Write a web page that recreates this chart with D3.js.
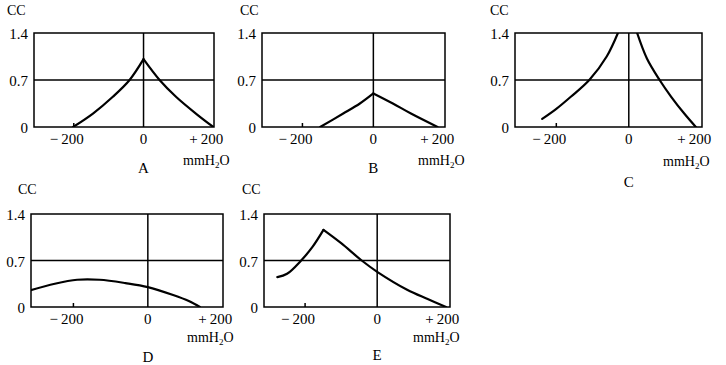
<!DOCTYPE html>
<html>
<head>
<meta charset="utf-8">
<script src="https://cdn.jsdelivr.net/npm/d3@7"></script>
<style>
  body { margin: 0; background: #fff; }
  svg text { font-family: "Liberation Serif", "Times New Roman", Times, "Nimbus Roman", "Nimbus Roman No9 L", FreeSerif, "Noto Serif", "DejaVu Serif", serif; }
</style>
</head>
<body>
<div id="viz-container"></div>
<script>
// ---- data (x in mmH2O, y in CC) ----
const xTicks = [-200, 0, 200];
const xTickLabels = ["−200", "0", "+200"];
const yTicks = [0, 0.7, 1.4];
const yTickLabels = ["0", "0.7", "1.4"];
const panelNames = ["A", "B", "C", "D", "E"];

// each curve is a list of branches (peaks are drawn as cusps)
const curveA = [
  [[-202, 0], [-145, 0.2], [-88, 0.45], [-40, 0.7], [0, 1.01]],
  [[0, 1.01], [46, 0.7], [93, 0.45], [150, 0.2], [200, 0]]
];
const curveB = [
  [[-150, 0], [-85, 0.2], [-38, 0.35], [0, 0.5]],
  [[0, 0.5], [55, 0.35], [106, 0.2], [181, 0]]
];
const curveC = [
  [[-239, 0.12], [-200, 0.27], [-160, 0.45], [-109, 0.7], [-61, 1.05], [-30, 1.4]],
  [[23, 1.4], [50, 1.02], [85, 0.7], [117, 0.45], [153, 0.2], [185, 0]]
];
const curveD = [
  [[-316, 0.25], [-250, 0.35], [-190, 0.41], [-130, 0.41], [-60, 0.36], [0, 0.3], [68, 0.18], [110, 0.09], [140, 0]]
];
const curveE = [
  [[-277, 0.45], [-250, 0.5], [-211, 0.7], [-180, 0.9], [-149, 1.16]],
  [[-149, 1.16], [-100, 0.96], [-43, 0.7], [0, 0.53], [83, 0.26], [140, 0.12], [191, 0]]
];
const curves = [curveA, curveB, curveC, curveD, curveE];

// ---- layout: plot boxes and label offsets per panel ----
const boxes = [
  { x0: 34,  x1: 214, y0: 33,  y1: 127, ccDx: -27, ccDy: -18, unitDx: -31, unitDy: 38, nameDy: 46 },
  { x0: 262, x1: 445, y0: 33,  y1: 127, ccDx: -22, ccDy: -18, unitDx: -27, unitDy: 38, nameDy: 46 },
  { x0: 515, x1: 702, y0: 33,  y1: 127, ccDx: -25, ccDy: -18, unitDx: -39, unitDy: 39, nameDy: 60 },
  { x0: 31,  x1: 223, y0: 214, y1: 307, ccDx: -13, ccDy: -20, unitDx: -36, unitDy: 35, nameDy: 55 },
  { x0: 264, x1: 450, y0: 214, y1: 307, ccDx: -22, ccDy: -20, unitDx: -37, unitDy: 35, nameDy: 53 }
];
const xDomain = [-314, 202];
const yDomain = [0, 1.4];

const svg = d3.select("#viz-container")
  .append("svg")
  .attr("width", 726)
  .attr("height", 365);

boxes.forEach((b, i) => {
  const x = d3.scaleLinear().domain(xDomain).range([b.x0, b.x1]);
  const y = d3.scaleLinear().domain(yDomain).range([b.y1, b.y0]);
  const g = svg.append("g");

  const clipId = "clip" + i;
  g.append("clipPath").attr("id", clipId)
    .append("rect")
    .attr("x", b.x0).attr("y", b.y0)
    .attr("width", b.x1 - b.x0).attr("height", b.y1 - b.y0);

  // frame
  g.append("rect")
    .attr("x", b.x0).attr("y", b.y0)
    .attr("width", b.x1 - b.x0).attr("height", b.y1 - b.y0)
    .attr("fill", "none").attr("stroke", "#000").attr("stroke-width", 1.5);

  // reference lines at 0.7 and at 0 mmH2O
  g.append("line")
    .attr("x1", b.x0).attr("x2", b.x1)
    .attr("y1", y(0.7)).attr("y2", y(0.7))
    .attr("stroke", "#000").attr("stroke-width", 1.5);
  g.append("line")
    .attr("x1", x(0)).attr("x2", x(0))
    .attr("y1", b.y0).attr("y2", b.y1)
    .attr("stroke", "#000").attr("stroke-width", 1.5);

  // small tick at -200
  g.append("line")
    .attr("x1", x(-200)).attr("x2", x(-200))
    .attr("y1", b.y1).attr("y2", b.y1 - 4)
    .attr("stroke", "#000").attr("stroke-width", 1.5);

  // y tick labels
  yTicks.forEach((t, k) => {
    g.append("text")
      .attr("x", b.x0 - 6)
      .attr("y", y(t) + 6)
      .attr("text-anchor", "end")
      .attr("font-size", "15px")
      .text(yTickLabels[k]);
  });

  // x tick labels (sign hangs left of the digits)
  xTicks.forEach((t, k) => {
    const lab = xTickLabels[k];
    const txt = g.append("text")
      .attr("y", b.y1 + 17)
      .attr("font-size", "15px");
    if (lab.length > 1 && (lab[0] === "−" || lab[0] === "+")) {
      txt.attr("x", x(t) - 11 - 13).attr("text-anchor", "start");
      txt.append("tspan").text(lab[0]);
      txt.append("tspan").attr("dx", 3).text(lab.slice(1));
    } else {
      txt.attr("x", x(t)).attr("text-anchor", "middle").text(lab);
    }
  });

  // axis captions
  g.append("text")
    .attr("x", b.x0 + b.ccDx)
    .attr("y", b.y0 + b.ccDy)
    .attr("font-size", "14px")
    .text("CC");

  const unit = g.append("text")
    .attr("x", b.x1 + b.unitDx)
    .attr("y", b.y1 + b.unitDy)
    .attr("font-size", "14px");
  unit.append("tspan").text("mmH");
  unit.append("tspan").attr("font-size", "9px").attr("dy", 3).text("2");
  unit.append("tspan").attr("dy", -3).text("O");

  g.append("text")
    .attr("x", x(0))
    .attr("y", b.y1 + b.nameDy)
    .attr("text-anchor", "middle")
    .attr("font-size", "15px")
    .text(panelNames[i]);

  // curve
  const line = d3.line()
    .x(d => x(d[0]))
    .y(d => y(d[1]))
    .curve(d3.curveCatmullRom.alpha(0.5));

  g.append("g")
    .attr("clip-path", `url(#${clipId})`)
    .selectAll("path")
    .data(curves[i])
    .enter().append("path")
    .attr("d", line)
    .attr("fill", "none")
    .attr("stroke", "#000")
    .attr("stroke-width", 2.2)
    .attr("stroke-linecap", "round");
});
</script>
</body>
</html>
